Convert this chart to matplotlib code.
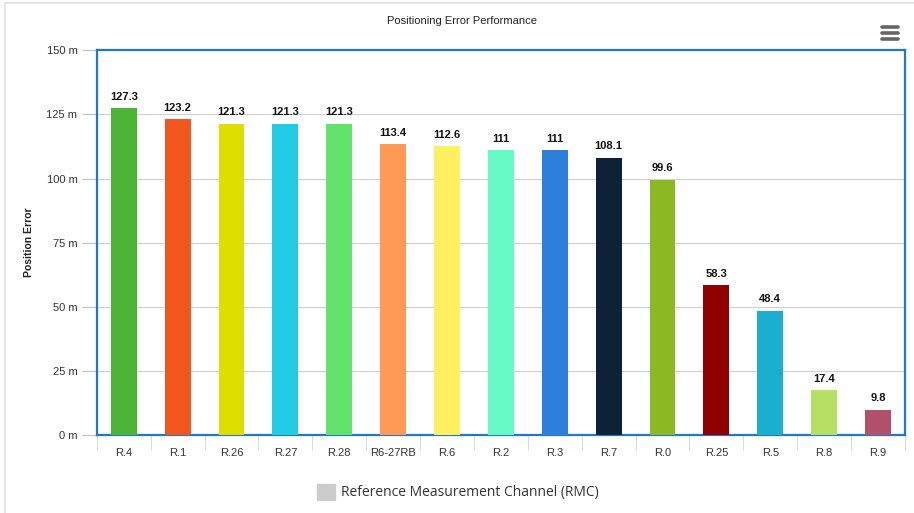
import matplotlib.pyplot as plt
from matplotlib.patches import Rectangle
from matplotlib.lines import Line2D

# data
channels = ['R.4', 'R.1', 'R.26', 'R.27', 'R.28', 'R6-27RB', 'R.6', 'R.2',
            'R.3', 'R.7', 'R.0', 'R.25', 'R.5', 'R.8', 'R.9']
errors = [127.3, 123.2, 121.3, 121.3, 121.3, 113.4, 112.6, 111,
          111, 108.1, 99.6, 58.3, 48.4, 17.4, 9.8]
labels = ['127.3', '123.2', '121.3', '121.3', '121.3', '113.4', '112.6', '111',
          '111', '108.1', '99.6', '58.3', '48.4', '17.4', '9.8']
bar_colors = ['#4db535', '#f0561d', '#dede00', '#22cce6', '#62e36e', '#ff9955',
              '#fff060', '#66f9c6', '#2e7fd9', '#0e2237', '#8ab923', '#910000',
              '#1aaecf', '#b5e061', '#b0506a']
y_ticks = [0, 25, 50, 75, 100, 125, 150]

plt.rcParams['font.family'] = ['Liberation Sans', 'DejaVu Sans']

fig = plt.figure(figsize=(9.14, 5.13), dpi=100)
ax = fig.add_axes([0.106, 0.152, 0.884, 0.750])

x = range(len(channels))
ax.bar(x, errors, color=bar_colors, width=0.48, zorder=3)
for i, v in enumerate(errors):
    ax.text(i, v + 2.5, labels[i], ha='center', va='bottom',
            fontsize=8, fontweight='bold', color='#111111', zorder=4)

ax.set_xlim(-0.5, len(channels) - 0.5)
ax.set_ylim(0, 150)
ax.set_yticks(y_ticks)
ax.set_yticklabels([f'{t} m' for t in y_ticks], fontsize=8, color='#333333')
ax.set_xticks(list(x))
ax.set_xticklabels(channels, fontsize=8, color='#333333')
ax.tick_params(axis='x', length=0, pad=9)
ax.tick_params(axis='y', length=11, color='#c0c0c0', pad=3)

# category separators below the axis
ax.set_xticks([i - 0.5 for i in range(len(channels) + 1)], minor=True)
ax.tick_params(axis='x', which='minor', length=11, color='#c8d6e6')

ax.grid(axis='y', color='#d0d0d0', linewidth=0.8, zorder=0)
for s in ax.spines.values():
    s.set_color('#1f78c8')
    s.set_linewidth(1.6)

ax.set_ylabel('Position Error', fontsize=7.5, fontweight='bold',
              color='#222222', labelpad=9)
fig.text(0.505, 0.96, 'Positioning Error Performance', ha='center',
         va='center', fontsize=8, color='#222222')

# legend
fig.patches.append(Rectangle((0.347, 0.026), 0.0195, 0.031,
                             transform=fig.transFigure, color='#cccccc'))
fig.text(0.373, 0.0405, 'Reference Measurement Channel (RMC)', ha='left',
         va='center', fontsize=10, color='#333333', family='Open Sans')

# card border and menu icon
fig.add_artist(Line2D([0.005, 0.005], [0, 0.994], color='#e6e6e6', lw=1.5))
fig.add_artist(Line2D([0.005, 1.0], [0.994, 0.994], color='#e6e6e6', lw=1.5))
for yy in [0.948, 0.936, 0.924]:
    fig.add_artist(Line2D([0.965, 0.983], [yy, yy], color='#666666', lw=2.6,
                          solid_capstyle='round'))

fig.savefig('out.png', dpi=100)
